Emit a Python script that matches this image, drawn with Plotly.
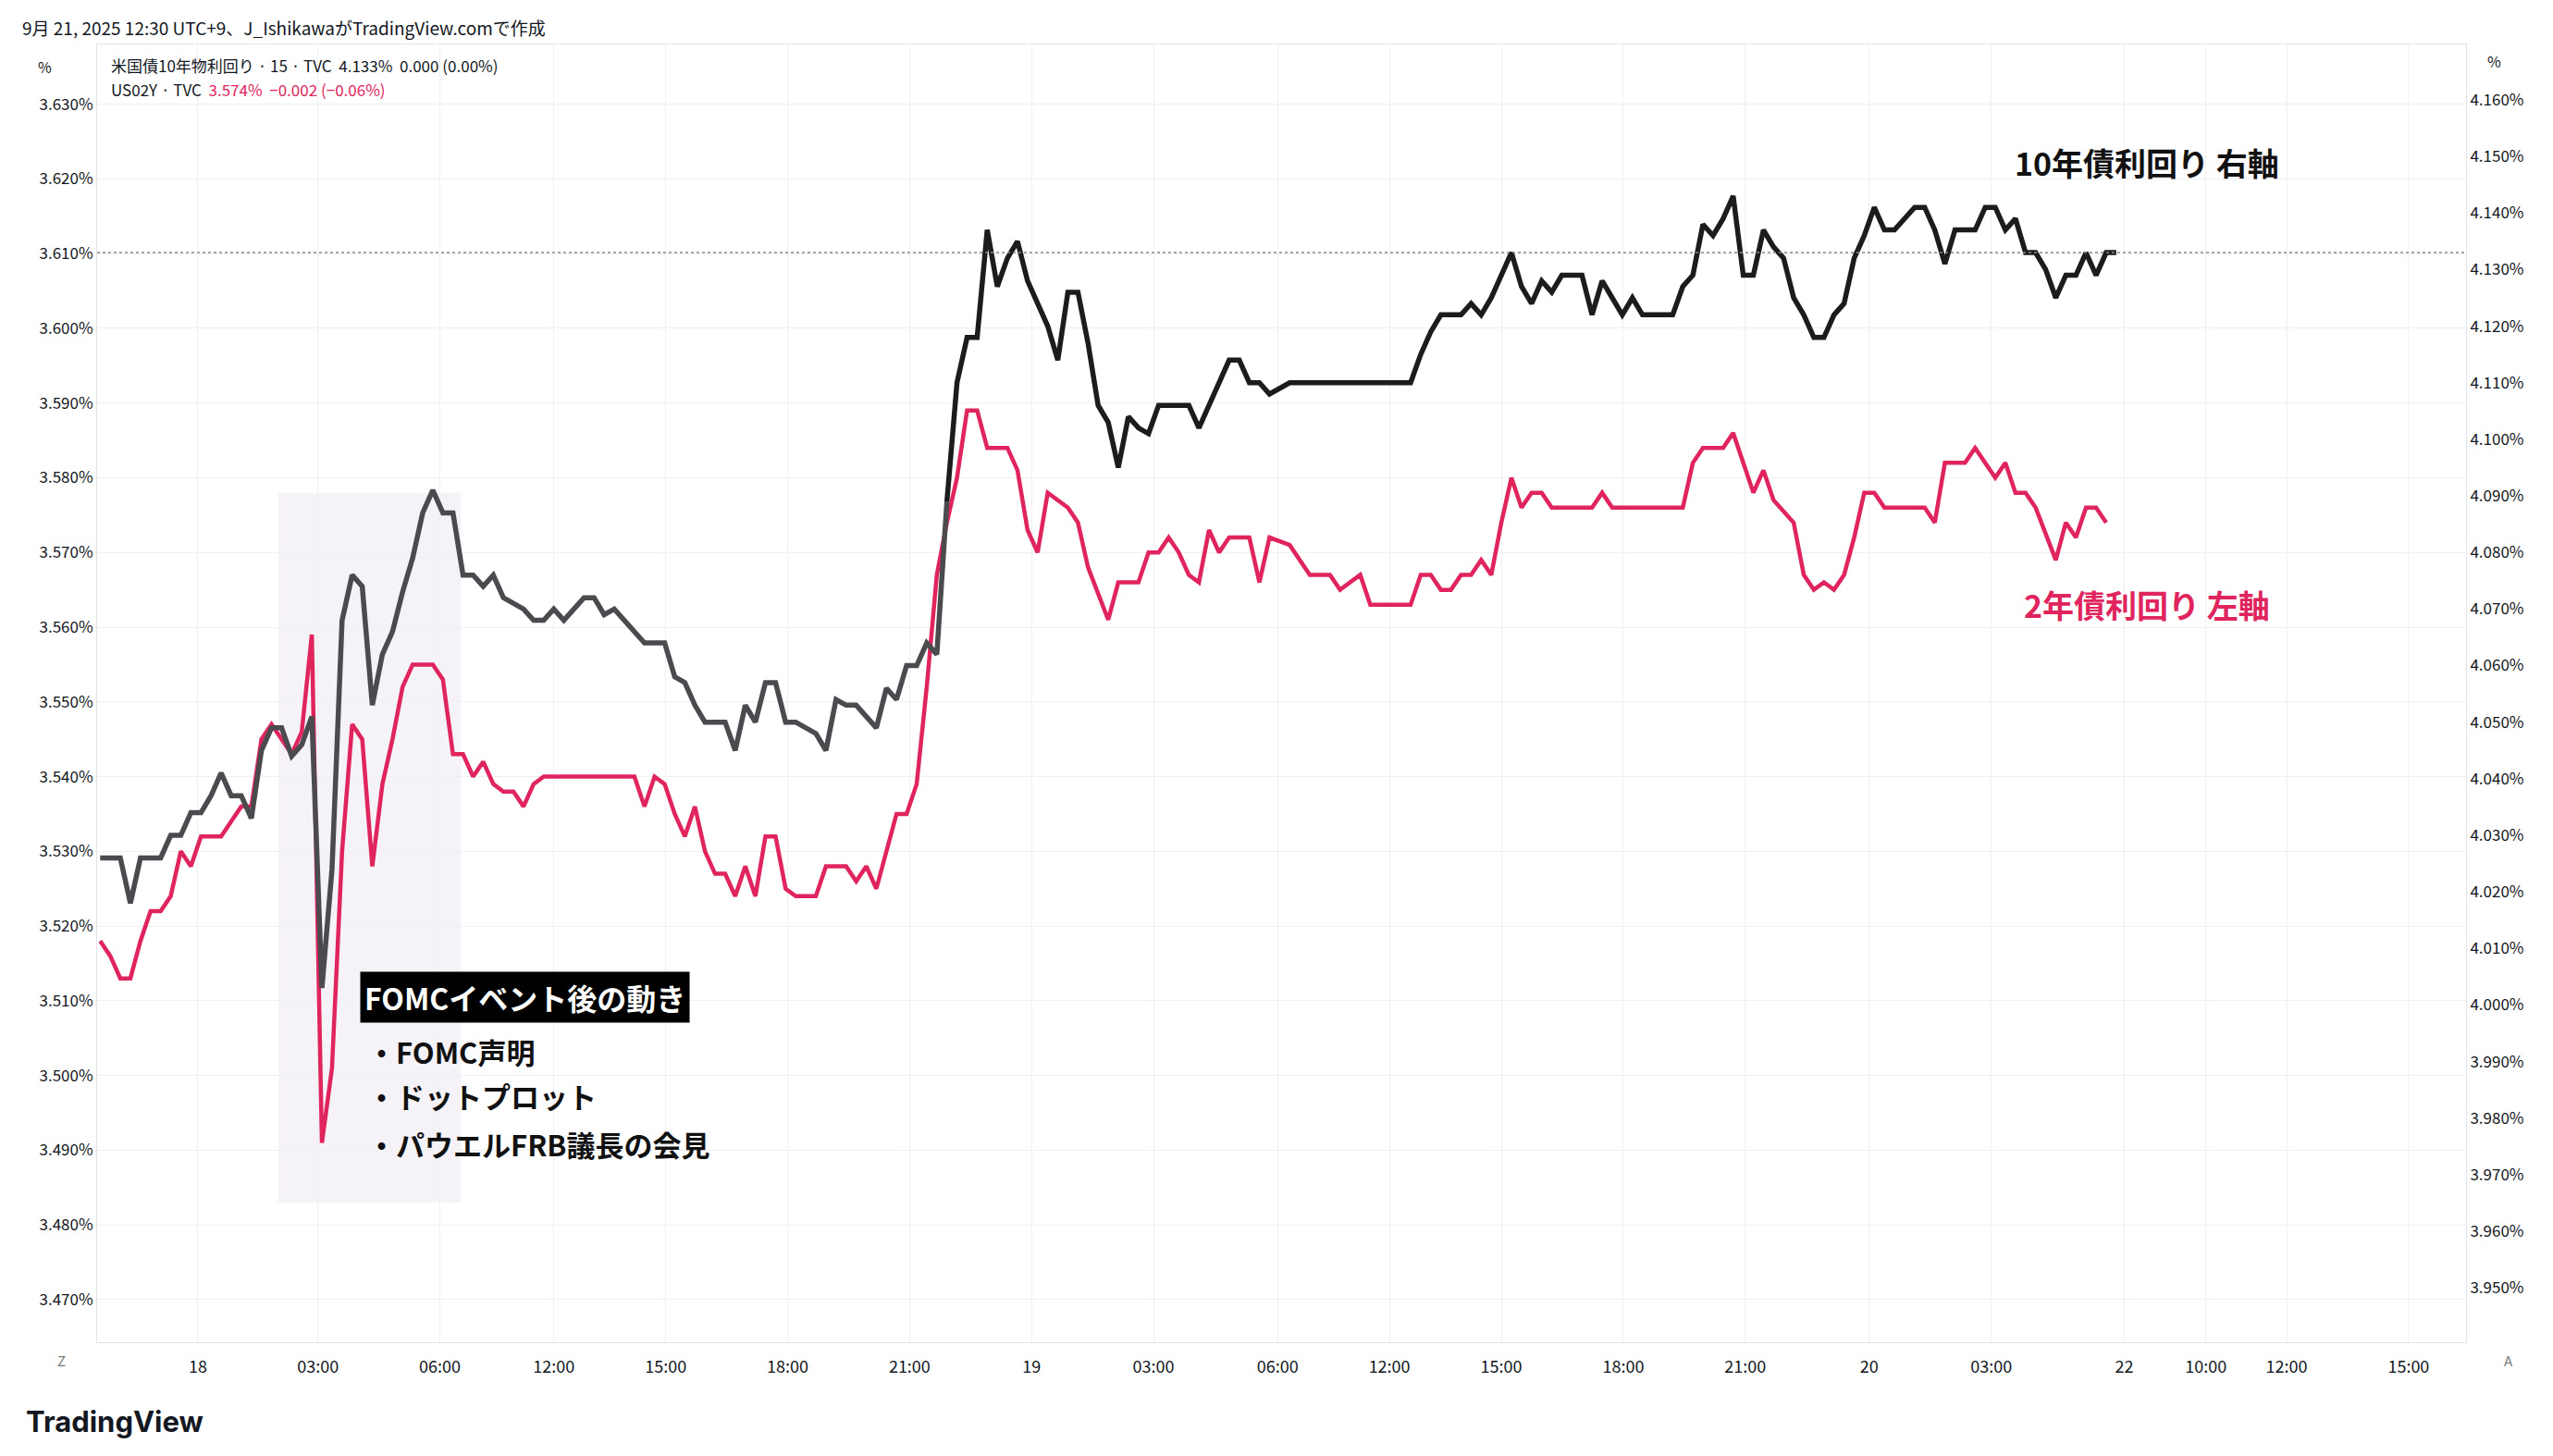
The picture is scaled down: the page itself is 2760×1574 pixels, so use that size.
import plotly.graph_objects as go

# 15-minute bar index (TradingView session index) and yields
us10_x = [0, 2, 3, 4, 6, 7, 8, 9, 10, 11, 12, 13, 14, 15, 16, 17, 18, 19, 20, 21, 22, 23, 24, 25, 26, 27, 28,
          29, 30, 31, 32, 33, 34, 35, 36, 37, 38, 39, 40, 42, 43, 44, 45, 46, 47, 48, 49, 50, 51, 52, 54, 55,
          56, 57, 58, 59, 60, 62, 63, 64, 65, 66, 67, 68, 69, 71, 72, 73, 74, 75, 77, 78, 79, 80, 81, 82, 83, 84]
us10_y = [4.026, 4.026, 4.018, 4.026, 4.026, 4.030, 4.030, 4.034, 4.034, 4.037, 4.041, 4.037, 4.037, 4.033,
          4.045, 4.049, 4.049, 4.044, 4.046, 4.051, 4.003, 4.024, 4.068, 4.076, 4.074, 4.053, 4.062, 4.066,
          4.073, 4.079, 4.087, 4.091, 4.087, 4.087, 4.076, 4.076, 4.074, 4.076, 4.072, 4.070, 4.068, 4.068,
          4.070, 4.068, 4.070, 4.072, 4.072, 4.069, 4.070, 4.068, 4.064, 4.064, 4.064, 4.058, 4.057, 4.053,
          4.050, 4.050, 4.045, 4.053, 4.050, 4.057, 4.057, 4.050, 4.050, 4.048, 4.045, 4.054, 4.053, 4.053,
          4.049, 4.056, 4.054, 4.060, 4.060, 4.064, 4.062, 4.089]
us10_x2 = [84, 85, 86, 87, 88, 89, 90, 91, 92, 93, 94, 95, 96, 97, 98, 99, 100, 101, 102, 103, 104, 105, 108,
           109, 110, 111, 112, 113, 114, 115, 116, 118, 130, 131, 132, 133, 135, 136, 137, 138, 140, 141, 142,
           143, 144, 145, 147, 148, 149, 150, 151, 152, 153, 156, 157, 158, 159, 160, 161, 162, 163, 164, 165,
           166, 167, 168, 169, 170, 171, 172, 173, 174, 175, 176, 177, 178, 180, 181, 182, 183, 184, 186, 187,
           188, 189, 190, 191, 192, 193, 194, 195, 196, 197, 198, 199, 200]
us10_y2 = [4.089, 4.110, 4.118, 4.118, 4.137, 4.127, 4.132, 4.135, 4.128, 4.124, 4.120, 4.114, 4.126, 4.126,
           4.117, 4.106, 4.103, 4.095, 4.104, 4.102, 4.101, 4.106, 4.106, 4.102, 4.106, 4.110, 4.114, 4.114,
           4.110, 4.110, 4.108, 4.110, 4.110, 4.115, 4.119, 4.122, 4.122, 4.124, 4.122, 4.125, 4.133, 4.127,
           4.124, 4.128, 4.126, 4.129, 4.129, 4.122, 4.128, 4.125, 4.122, 4.125, 4.122, 4.122, 4.127, 4.129,
           4.138, 4.136, 4.139, 4.143, 4.129, 4.129, 4.137, 4.134, 4.132, 4.125, 4.122, 4.118, 4.118, 4.122,
           4.124, 4.132, 4.136, 4.141, 4.137, 4.137, 4.141, 4.141, 4.137, 4.131, 4.137, 4.137, 4.141, 4.141,
           4.137, 4.139, 4.133, 4.133, 4.130, 4.125, 4.129, 4.129, 4.133, 4.129, 4.133, 4.133]

us02_x = [0, 1, 2, 3, 4, 5, 6, 7, 8, 9, 10, 12, 13, 14, 15, 16, 17, 18, 19, 20, 21, 22, 23, 24, 25, 26, 27,
          28, 29, 30, 31, 33, 34, 35, 36, 37, 38, 39, 40, 41, 42, 43, 44, 53, 54, 55, 56, 57, 58, 59, 60, 61,
          62, 63, 64, 65, 66, 67, 68, 69, 71, 72, 74, 75, 76, 77, 78, 79, 80, 81, 82, 83, 84, 85, 86, 87, 88,
          90, 91, 92, 93, 94, 96, 97, 98, 100, 101, 103, 104, 105, 106, 107, 108, 109, 110, 111, 112, 114,
          115, 116, 118, 119, 120, 122, 123, 125, 126, 130, 131, 132, 133, 134, 135, 136, 137, 138, 139, 140,
          141, 142, 143, 144, 148, 149, 150, 157, 158, 159, 161, 162, 163, 164, 165, 166, 168, 169, 170, 171,
          172, 173, 174, 175, 176, 177, 181, 182, 183, 185, 186, 187, 188, 189, 190, 191, 192, 194, 195, 196,
          197, 198, 199]
us02_y = [3.518, 3.516, 3.513, 3.513, 3.518, 3.522, 3.522, 3.524, 3.530, 3.528, 3.532, 3.532, 3.534, 3.536,
          3.536, 3.545, 3.547, 3.545, 3.543, 3.546, 3.559, 3.491, 3.501, 3.530, 3.547, 3.545, 3.528, 3.539,
          3.545, 3.552, 3.555, 3.555, 3.553, 3.543, 3.543, 3.540, 3.542, 3.539, 3.538, 3.538, 3.536, 3.539,
          3.540, 3.540, 3.536, 3.540, 3.539, 3.535, 3.532, 3.536, 3.530, 3.527, 3.527, 3.524, 3.528, 3.524,
          3.532, 3.532, 3.525, 3.524, 3.524, 3.528, 3.528, 3.526, 3.528, 3.525, 3.530, 3.535, 3.535, 3.539,
          3.552, 3.567, 3.574, 3.580, 3.589, 3.589, 3.584, 3.584, 3.581, 3.573, 3.570, 3.578, 3.576, 3.574,
          3.568, 3.561, 3.566, 3.566, 3.570, 3.570, 3.572, 3.570, 3.567, 3.566, 3.573, 3.570, 3.572, 3.572,
          3.566, 3.572, 3.571, 3.569, 3.567, 3.567, 3.565, 3.567, 3.563, 3.563, 3.567, 3.567, 3.565, 3.565,
          3.567, 3.567, 3.569, 3.567, 3.574, 3.580, 3.576, 3.578, 3.578, 3.576, 3.576, 3.578, 3.576, 3.576,
          3.582, 3.584, 3.584, 3.586, 3.582, 3.578, 3.581, 3.577, 3.574, 3.567, 3.565, 3.566, 3.565, 3.567,
          3.572, 3.578, 3.578, 3.576, 3.576, 3.574, 3.582, 3.582, 3.584, 3.582, 3.580, 3.582, 3.578, 3.578,
          3.576, 3.569, 3.574, 3.572, 3.576, 3.576, 3.574]

tick_pos = [9.7, 21.6, 33.7, 45, 56.1, 68.2, 80.3, 92.4, 104.5, 116.8, 127.9, 139, 151.1, 163.2, 175.5,
            187.6, 200.8, 208.9, 216.9, 229]
tick_txt = ["18", "03:00", "06:00", "12:00", "15:00", "18:00", "21:00", "19", "03:00", "06:00", "12:00",
            "15:00", "18:00", "21:00", "20", "03:00", "22", "10:00", "12:00", "15:00"]
left_ticks = [round(3.47 + 0.01 * k, 3) for k in range(17)]
right_ticks = [round(3.95 + 0.01 * k, 3) for k in range(22)]
last_10y = 4.133

PINK = "#e0245e"
FONT = "Noto Sans CJK JP"
TXT = "#131722"
W, H, ML, MR, MT, MB = 2760, 1574, 97, 102, 40, 131


def px(x, y):
    # page pixel -> paper coords
    return (x - ML) / (W - ML - MR), 1 - (y - MT) / (H - MT - MB)


fig = go.Figure()
fig.add_trace(go.Scatter(x=us02_x, y=us02_y, mode="lines", line=dict(color=PINK, width=4.5),
                         yaxis="y", hoverinfo="skip"))
fig.add_trace(go.Scatter(x=us10_x, y=us10_y, mode="lines", line=dict(color="#4a4a4f", width=5.5),
                         yaxis="y2", hoverinfo="skip"))
fig.add_trace(go.Scatter(x=us10_x2, y=us10_y2, mode="lines", line=dict(color="#1c1c1f", width=5.5),
                         yaxis="y2", hoverinfo="skip"))

# FOMC shaded window
fig.add_shape(type="rect", xref="x", yref="y", x0=17.7, x1=35.8, y0=3.483, y1=3.578,
              fillcolor="rgba(236,232,240,0.5)", line_width=0, layer="below")
# last value dotted line (10Y)
fig.add_shape(type="line", xref="paper", yref="y2", x0=0, x1=1, y0=last_10y, y1=last_10y,
              line=dict(color="#888", width=1.5, dash="dot"))

fig.add_annotation(x=25.8, y=3.5105, xref="x", yref="y", text="<b>FOMCイベント後の動き</b>",
                   showarrow=False, xanchor="left", font=dict(family=FONT, size=32, color="white"),
                   bgcolor="black", borderpad=4)
for txt, yv in [("・FOMC声明", 3.5032), ("・ドットプロット", 3.4973), ("・パウエルFRB議長の会見", 3.4908)]:
    fig.add_annotation(x=26.3, y=yv, xref="x", yref="y", text="<b>" + txt + "</b>", showarrow=False,
                       xanchor="left", font=dict(family=FONT, size=31, color="#111"))
fig.add_annotation(x=203, y=4.149, xref="x", yref="y2", text="<b>10年債利回り 右軸</b>", showarrow=False,
                   font=dict(family=FONT, size=34, color="#111"))
fig.add_annotation(x=203, y=3.563, xref="x", yref="y", text="<b>2年債利回り 左軸</b>", showarrow=False,
                   font=dict(family=FONT, size=34, color=PINK))

# header / legend / branding (page pixel positions)
labels = [
    (14, 21, "9月 21, 2025 12:30 UTC+9、J_IshikawaがTradingView.comで作成", 19, TXT, "left", FONT),
    (110, 62, "米国債10年物利回り · 15 · TVC  4.133%  0.000 (0.00%)", 17, TXT, "left", FONT),
    (110, 88, "US02Y · TVC  <span style='color:%s'>3.574%%  −0.002 (−0.06%%)</span>" % PINK, 17, TXT, "left", FONT),
    (40, 64, "%", 16, TXT, "center", FONT),
    (2688, 58, "%", 16, TXT, "center", FONT),
    (58, 1462, "Z", 15, "#777", "center", FONT),
    (2704, 1462, "A", 15, "#777", "center", FONT),
    (18, 1528, "<b>TradingView</b>", 31, TXT, "left", "Inter"),
]
for x, y, t, s, c, anc, fam in labels:
    ax, ay = px(x, y)
    fig.add_annotation(x=ax, y=ay, xref="paper", yref="paper", text=t, showarrow=False, xanchor=anc,
                       yanchor="middle", font=dict(family=fam, size=s, color=c))

grid = "#f0f0f3"
fig.update_layout(
    width=W, height=H, margin=dict(l=ML, r=MR, t=MT, b=MB),
    paper_bgcolor="white", plot_bgcolor="white", showlegend=False,
    font=dict(family=FONT, color=TXT),
    xaxis=dict(range=[-0.3, 234.7], tickvals=tick_pos, ticktext=tick_txt, showgrid=True, gridcolor=grid,
               zeroline=False, showline=True, linecolor="#e0e3eb", mirror=True, ticks="",
               tickfont=dict(size=18, color=TXT), ticklabelstandoff=10),
    yaxis=dict(range=[3.4643, 3.638], tickvals=left_ticks, ticktext=["%.3f%%" % v for v in left_ticks],
               showgrid=True, gridcolor=grid, zeroline=False, showline=True, linecolor="#e0e3eb",
               tickfont=dict(size=17, color=TXT), ticks=""),
    yaxis2=dict(range=[3.9404, 4.1698], tickvals=right_ticks, ticktext=["%.3f%%" % v for v in right_ticks],
                overlaying="y", side="right", showgrid=False, zeroline=False, showline=True,
                linecolor="#e0e3eb", tickfont=dict(size=17, color=TXT), ticks=""),
)
fig.write_html("out.html")
